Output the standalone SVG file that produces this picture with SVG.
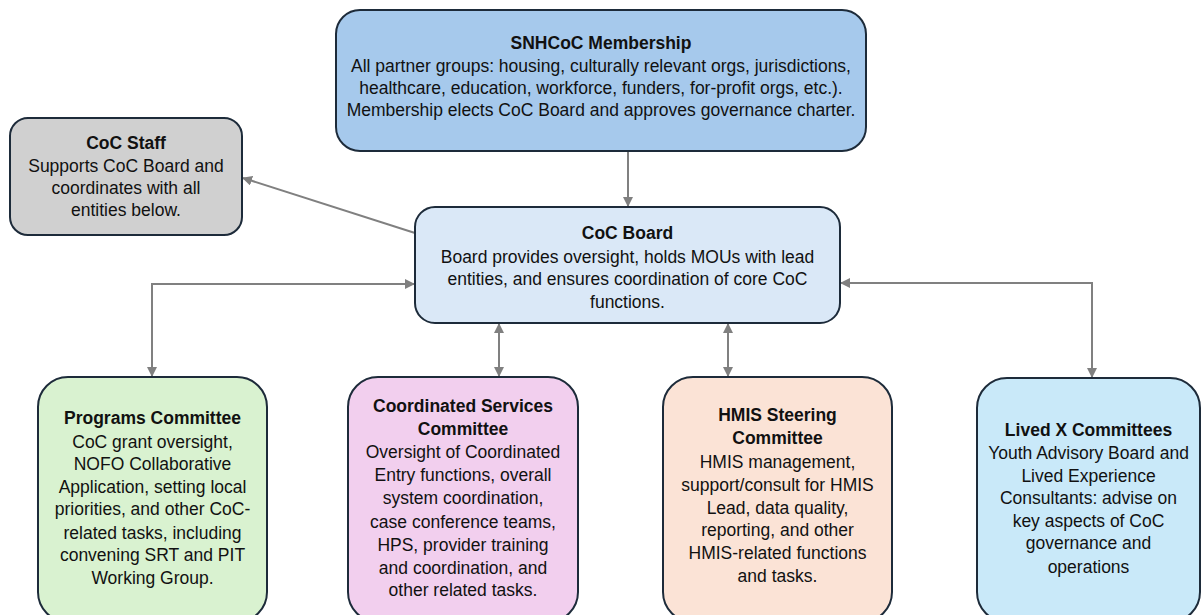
<svg xmlns="http://www.w3.org/2000/svg" width="1201" height="615" viewBox="0 0 1201 615">
  <style>
    .box { stroke: #1d2b3a; stroke-width: 2; }
    .title { font-family: "Liberation Sans", Arial, sans-serif; font-size: 17.5px; font-weight: bold; fill: #111; text-anchor: middle; }
    .body { font-family: "Liberation Sans", Arial, sans-serif; font-size: 17.5px; fill: #111; text-anchor: middle; }
    .link { fill: none; stroke: #808080; stroke-width: 2; }
  </style>
  <defs>
    <marker id="arrow" viewBox="0 0 10 10" refX="9" refY="5" markerWidth="5" markerHeight="5" orient="auto-start-reverse" markerUnits="strokeWidth">
      <path d="M0,0 L10,5 L0,10 Z" fill="#808080"/>
    </marker>
  </defs>
  <rect width="1201" height="615" fill="#ffffff"/>

  <!-- connectors -->
  <g id="connectors">
    <path class="link" d="M628,151 V206" marker-end="url(#arrow)"/>
    <path class="link" d="M415,233 L243,178" marker-end="url(#arrow)"/>
    <path class="link" d="M152,376 V284 H414" marker-start="url(#arrow)" marker-end="url(#arrow)"/>
    <path class="link" d="M499,324 V376" marker-start="url(#arrow)" marker-end="url(#arrow)"/>
    <path class="link" d="M728,324 V376" marker-start="url(#arrow)" marker-end="url(#arrow)"/>
    <path class="link" d="M841,283 H1092 V377" marker-start="url(#arrow)" marker-end="url(#arrow)"/>
  </g>

  <!-- membership -->
  <g id="membership">
    <rect class="box" x="336" y="10" width="530" height="141" rx="24" fill="#a6c9ec"/>
    <text class="title" x="601" y="49">SNHCoC Membership</text>
    <text class="body" x="601" y="72">All partner groups: housing, culturally relevant orgs, jurisdictions,</text>
    <text class="body" x="601" y="94">healthcare, education, workforce, funders, for-profit orgs, etc.).</text>
    <text class="body" x="601" y="116">Membership elects CoC Board and approves governance charter.</text>
  </g>

  <!-- staff -->
  <g id="staff">
    <rect class="box" x="10" y="118" width="232" height="117" rx="18" fill="#d0d0d0"/>
    <text class="title" x="126" y="149">CoC Staff</text>
    <text class="body" x="126" y="172">Supports CoC Board and</text>
    <text class="body" x="126" y="194">coordinates with all</text>
    <text class="body" x="126" y="216">entities below.</text>
  </g>

  <!-- board -->
  <g id="board">
    <rect class="box" x="415" y="207" width="425" height="116" rx="20" fill="#dae8f7"/>
    <text class="title" x="627.5" y="239">CoC Board</text>
    <text class="body" x="627.5" y="263">Board provides oversight, holds MOUs with lead</text>
    <text class="body" x="627.5" y="285">entities, and ensures coordination of core CoC</text>
    <text class="body" x="627.5" y="308">functions.</text>
  </g>

  <!-- programs committee -->
  <g id="programs">
    <rect class="box" x="38" y="377" width="229" height="245" rx="30" fill="#d9f2d0"/>
    <text class="title" x="152.5" y="424">Programs Committee</text>
    <text class="body" x="152.5" y="448">CoC grant oversight,</text>
    <text class="body" x="152.5" y="470">NOFO Collaborative</text>
    <text class="body" x="152.5" y="493">Application, setting local</text>
    <text class="body" x="152.5" y="515">priorities, and other CoC-</text>
    <text class="body" x="152.5" y="539">related tasks, including</text>
    <text class="body" x="152.5" y="561">convening SRT and PIT</text>
    <text class="body" x="152.5" y="584">Working Group.</text>
  </g>

  <!-- coordinated services committee -->
  <g id="coordinated">
    <rect class="box" x="348" y="377" width="230" height="245" rx="30" fill="#f2cfee"/>
    <text class="title" x="463" y="412">Coordinated Services</text>
    <text class="title" x="463" y="435">Committee</text>
    <text class="body" x="463" y="458">Oversight of Coordinated</text>
    <text class="body" x="463" y="481">Entry functions, overall</text>
    <text class="body" x="463" y="504">system coordination,</text>
    <text class="body" x="463" y="528">case conference teams,</text>
    <text class="body" x="463" y="551">HPS, provider training</text>
    <text class="body" x="463" y="574">and coordination, and</text>
    <text class="body" x="463" y="596">other related tasks.</text>
  </g>

  <!-- hmis steering committee -->
  <g id="hmis">
    <rect class="box" x="663" y="377" width="229" height="245" rx="30" fill="#fbe3d6"/>
    <text class="title" x="777.5" y="421">HMIS Steering</text>
    <text class="title" x="777.5" y="444">Committee</text>
    <text class="body" x="777.5" y="468">HMIS management,</text>
    <text class="body" x="777.5" y="491">support/consult for HMIS</text>
    <text class="body" x="777.5" y="514">Lead, data quality,</text>
    <text class="body" x="777.5" y="536">reporting, and other</text>
    <text class="body" x="777.5" y="559">HMIS-related functions</text>
    <text class="body" x="777.5" y="582">and tasks.</text>
  </g>

  <!-- lived experience committees -->
  <g id="lived">
    <rect class="box" x="977" y="378" width="223" height="244" rx="30" fill="#c9e9f9"/>
    <text class="title" x="1088.5" y="436">Lived X Committees</text>
    <text class="body" x="1088.5" y="459">Youth Advisory Board and</text>
    <text class="body" x="1088.5" y="482">Lived Experience</text>
    <text class="body" x="1088.5" y="504">Consultants: advise on</text>
    <text class="body" x="1088.5" y="527">key aspects of CoC</text>
    <text class="body" x="1088.5" y="549">governance and</text>
    <text class="body" x="1088.5" y="573">operations</text>
  </g>
</svg>
